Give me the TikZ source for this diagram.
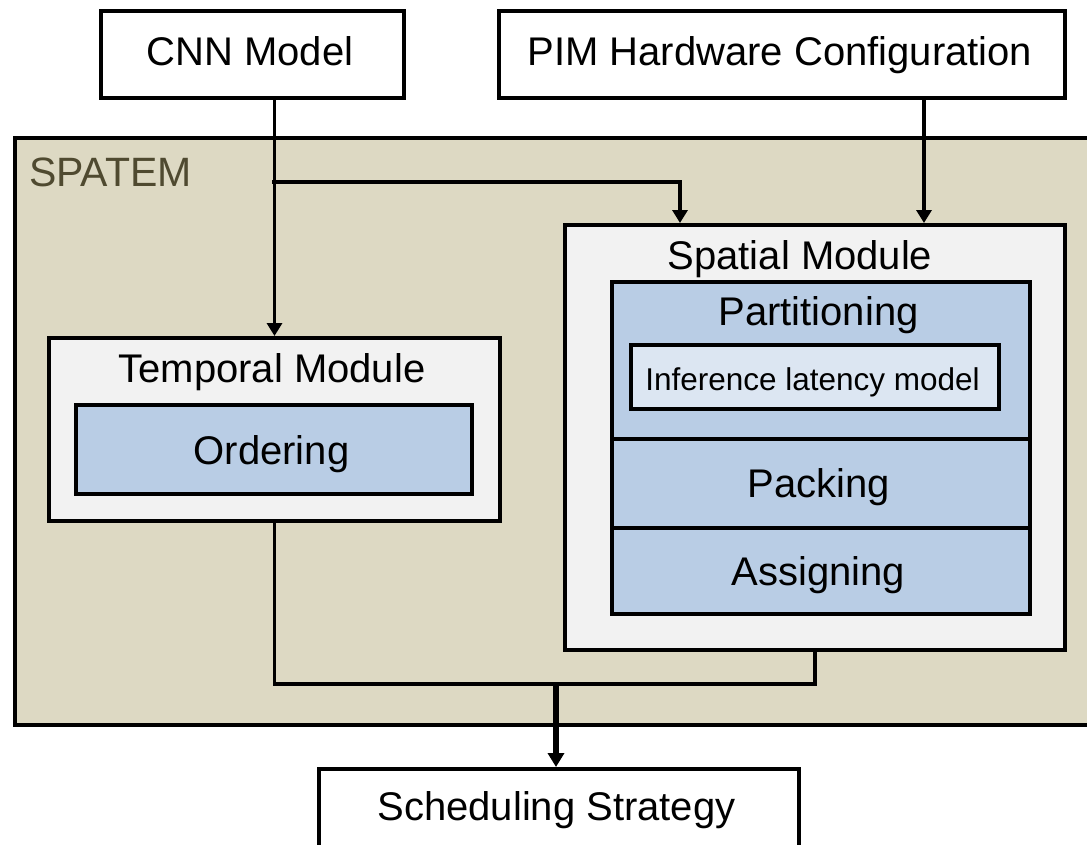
\documentclass[tikz,border=0pt]{standalone}
\usepackage{fontspec}
\setmainfont{Liberation Sans}
\usetikzlibrary{arrows.meta}
\definecolor{tanbg}{HTML}{DDD9C3}
\definecolor{modfill}{HTML}{F2F2F2}
\definecolor{stepblue}{HTML}{B9CDE5}
\definecolor{lightblue}{HTML}{DCE6F2}
\definecolor{olivetext}{HTML}{4F4A30}
\tikzset{
  box/.style={draw=black, line width=4pt, rectangle, inner sep=0pt, anchor=north west},
  lbl/.style={anchor=base, inner sep=0pt, font=\fontsize{40}{48}\selectfont},
  smalllbl/.style={anchor=base, inner sep=0pt, font=\fontsize{31.5}{38}\selectfont},
  flow/.style={line width=3.6pt, -{Triangle[length=13pt,width=15pt]}},
  plain/.style={line width=3.6pt},
}
\begin{document}
\begin{tikzpicture}[x=1pt,y=-1pt]
\useasboundingbox (0,0) rectangle (1087,844);

% outer SPATEM frame
\node[box, fill=tanbg, minimum width=1080pt, minimum height=587pt] (spatem) at (13,136) {};
\node[anchor=base west, inner sep=0pt, text=olivetext, font=\fontsize{41}{48}\selectfont] (spatemlbl) at (29,186) {SPATEM};

% inputs
\node[box, fill=white, minimum width=303pt, minimum height=87pt] (cnn) at (99,9) {};
\node[lbl] (cnnlbl) at (250,65) {CNN Model};
\node[box, fill=white, minimum width=566pt, minimum height=87pt] (pim) at (497,9) {};
\node[lbl] (pimlbl) at (780,65) {PIM Hardware Configuration};

% temporal module
\node[box, fill=modfill, minimum width=451pt, minimum height=183pt] (temporal) at (47,336) {};
\node[lbl] (templbl) at (272,382) {Temporal Module};
\node[box, fill=stepblue, minimum width=396pt, minimum height=89pt] (ordering) at (74,403) {};
\node[lbl] (ordlbl) at (271.5,464) {Ordering};

% spatial module
\node[box, fill=modfill, minimum width=500pt, minimum height=425pt] (spatial) at (563,223) {};
\node[lbl] (spatlbl) at (800,269) {Spatial Module};
\node[box, fill=stepblue, minimum width=418pt, minimum height=157pt] (partition) at (610,280) {};
\node[lbl] (partlbl) at (818.5,325) {Partitioning};
\node[box, fill=lightblue, minimum width=368pt, minimum height=64pt] (latency) at (629,343) {};
\node[smalllbl] (latlbl) at (812.5,390) {Inference latency model};
\node[box, fill=stepblue, minimum width=418pt, minimum height=89pt] (packing) at (610,437) {};
\node[lbl] (packlbl) at (818.5,497) {Packing};
\node[box, fill=stepblue, minimum width=418pt, minimum height=86pt] (assigning) at (610,526) {};
\node[lbl] (asslbl) at (818.5,585) {Assigning};

% output
\node[box, fill=white, minimum width=480pt, minimum height=90pt] (sched) at (317,767) {};
\node[lbl] (schedlbl) at (556.5,820) {Scheduling Strategy};

% connectors
\coordinate (split) at (272,182);
\coordinate (spatin) at (680,223);
\coordinate (pimin) at (924,223);
\coordinate (join) at (556,684);

\draw[flow] (cnn.south -| temporal.north) -- (temporal.north);
\draw[flow] (split) -| (spatin);
\draw[flow] (pim.south -| pimin) -- (pimin);
\draw[plain] (temporal.south) |- (join) -| (spatial.south);
\draw[line width=5.5pt, -{Triangle[length=14pt,width=16pt]}] (join) -- (join |- sched.north);
\end{tikzpicture}
\end{document}
